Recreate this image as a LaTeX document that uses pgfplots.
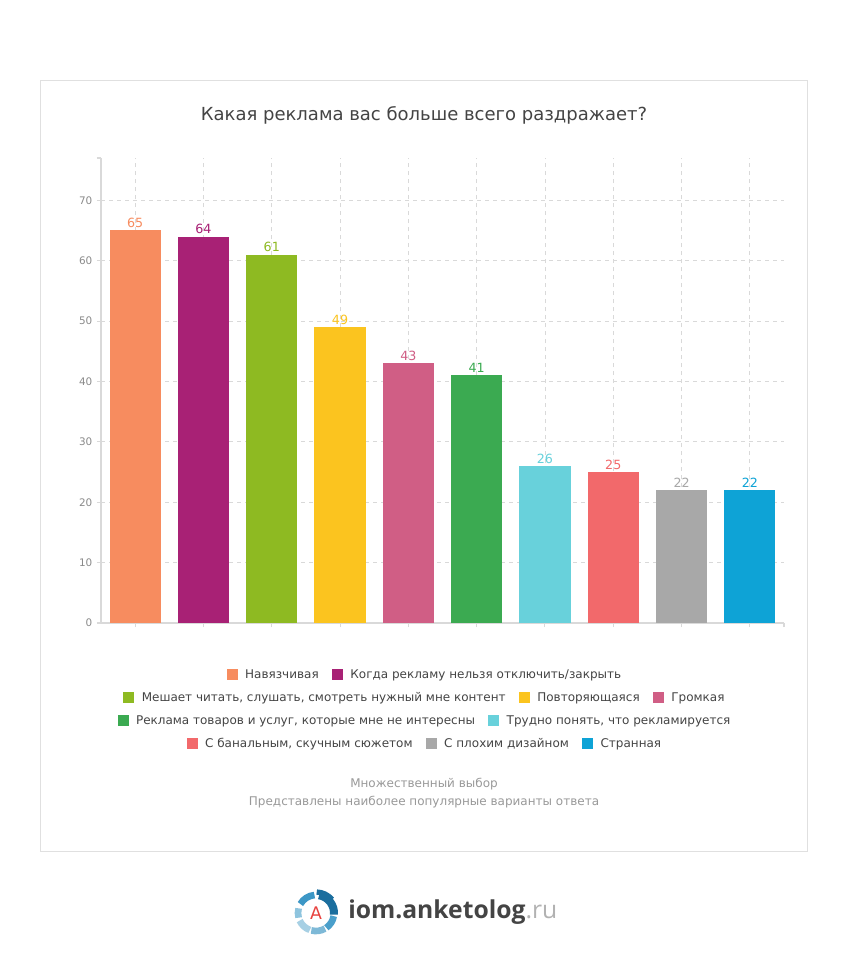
\documentclass[border=0pt]{standalone}
\usepackage{pgfplots}
\pgfplotsset{compat=1.18}
\usepackage{fontspec}
\setmainfont{DejaVu Sans}
\newfontfamily\logofont{Open Sans}
\definecolor{c1}{HTML}{F78C5F}
\definecolor{c2}{HTML}{A82175}
\definecolor{c3}{HTML}{8EBA22}
\definecolor{c4}{HTML}{FBC41F}
\definecolor{c5}{HTML}{D05E85}
\definecolor{c6}{HTML}{3BAA51}
\definecolor{c7}{HTML}{68D1DB}
\definecolor{c8}{HTML}{F2696B}
\definecolor{c9}{HTML}{A8A8A8}
\definecolor{c10}{HTML}{0EA3D6}
\definecolor{txt}{HTML}{444444}
\definecolor{tickgray}{HTML}{8A8A8A}
\definecolor{notegray}{HTML}{999999}
\definecolor{linegray}{HTML}{D9D9D9}
\definecolor{lg1}{HTML}{1B6E9E}
\definecolor{lg2}{HTML}{3C97C6}
\definecolor{lg3}{HTML}{8EC4DE}
\definecolor{lg4}{HTML}{A7D0E4}
\definecolor{lg5}{HTML}{7EB9D7}
\definecolor{lg6}{HTML}{4A9FCB}
\pgfplotsset{mybar/.style={fill=#1, draw=none, bar shift=0pt,
  every node near coord/.append style={text=#1}}}
\newcommand{\sq}[1]{\raisebox{-0.8pt}{\textcolor{#1}{\rule{8.25pt}{8.25pt}}}\hspace{5.5pt}}
\newcommand{\gap}{\hspace{10pt}}
\begin{document}
\begin{tikzpicture}[x=0.75pt,y=-0.75pt]
\path[fill=white,use as bounding box] (0,0) rectangle (848,974);
\draw[draw=black!12] (40.5,80.5) rectangle (807.5,851.5);
\node[text=txt,font=\fontsize{13.5}{16}\selectfont] at (424,115) {Какая реклама вас больше всего раздражает?};
\begin{axis}[
  at={(75.75pt,-467.25pt)}, anchor=south west,
  scale only axis, width=512.25pt, height=348.75pt,
  xmin=-0.5, xmax=9.5, ymin=0, ymax=77,
  xtick={0,...,9}, xticklabels={},
  ytick={0,10,...,70},
  axis x line*=bottom, axis y line*=left,
  axis line style={draw=linegray, line width=0.8pt, -},
  tick style={draw=linegray, line width=0.8pt},
  major tick length=3pt, tick align=outside,
  xmajorgrids, ymajorgrids,
  grid style={dashed, draw=linegray, line width=0.6pt},
  extra y ticks={77}, extra y tick labels={}, extra y tick style={grid=none},
  extra x ticks={9.5}, extra x tick labels={}, extra x tick style={grid=none},
  yticklabel style={font=\fontsize{7.8}{9}\selectfont, text=tickgray},
  /pgf/number format/assume math mode=true,
  ybar, bar width=0.75,
  nodes near coords,
  every node near coord/.append style={font=\fontsize{9.5}{11}\selectfont, inner sep=1.8pt},
]
\addplot[mybar=c1] coordinates {(0,65)};
\addplot[mybar=c2] coordinates {(1,64)};
\addplot[mybar=c3] coordinates {(2,61)};
\addplot[mybar=c4] coordinates {(3,49)};
\addplot[mybar=c5] coordinates {(4,43)};
\addplot[mybar=c6] coordinates {(5,41)};
\addplot[mybar=c7] coordinates {(6,26)};
\addplot[mybar=c8] coordinates {(7,25)};
\addplot[mybar=c9] coordinates {(8,22)};
\addplot[mybar=c10] coordinates {(9,22)};
\end{axis}
\begin{scope}[every node/.style={text=txt,font=\fontsize{9}{11}\selectfont}]
\node at (424,675) {\sq{c1}Навязчивая\gap\sq{c2}Когда рекламу нельзя отключить/закрыть};
\node at (424,698) {\sq{c3}Мешает читать, слушать, смотреть нужный мне контент\gap\sq{c4}Повторяющаяся\gap\sq{c5}Громкая};
\node at (424,721) {\sq{c6}Реклама товаров и услуг, которые мне не интересны\gap\sq{c7}Трудно понять, что рекламируется};
\node at (424,744) {\sq{c8}С банальным, скучным сюжетом\gap\sq{c9}С плохим дизайном\gap\sq{c10}Странная};
\end{scope}
\node[text=notegray,font=\fontsize{9}{11}\selectfont] at (424,784) {Множественный выбор};
\node[text=notegray,font=\fontsize{9}{11}\selectfont] at (424,802) {Представлены наиболее популярные варианты ответа};
% logo
\begin{scope}[shift={(316,913)}]
\draw[line width=6pt, lg1] (-80:18) arc[start angle=-80, end angle=5, radius=18];
\draw[line width=4pt, lg1] (-88:21) arc[start angle=-88, end angle=-40, radius=21];
\draw[line width=5pt, lg2] (-150:18) arc[start angle=-150, end angle=-95, radius=18];
\draw[line width=5pt, lg3] (-195:18) arc[start angle=-195, end angle=-165, radius=18];
\draw[line width=5pt, lg4] (-250:18) arc[start angle=-250, end angle=-205, radius=18];
\draw[line width=5pt, lg5] (-300:18) arc[start angle=-300, end angle=-255, radius=18];
\draw[line width=5pt, lg6] (-350:18) arc[start angle=-350, end angle=-305, radius=18];
\node[text={rgb,255:red,232;green,66;blue,63},font=\fontsize{13}{15}\selectfont] at (0,0) {A};
\end{scope}
\node[anchor=west,inner sep=0pt,font=\logofont\fontsize{18.5}{22}\selectfont] at (348,912) {\textcolor{txt}{\bfseries iom.anketolog}\textcolor{black!30}{.ru}};
\end{tikzpicture}
\end{document}
